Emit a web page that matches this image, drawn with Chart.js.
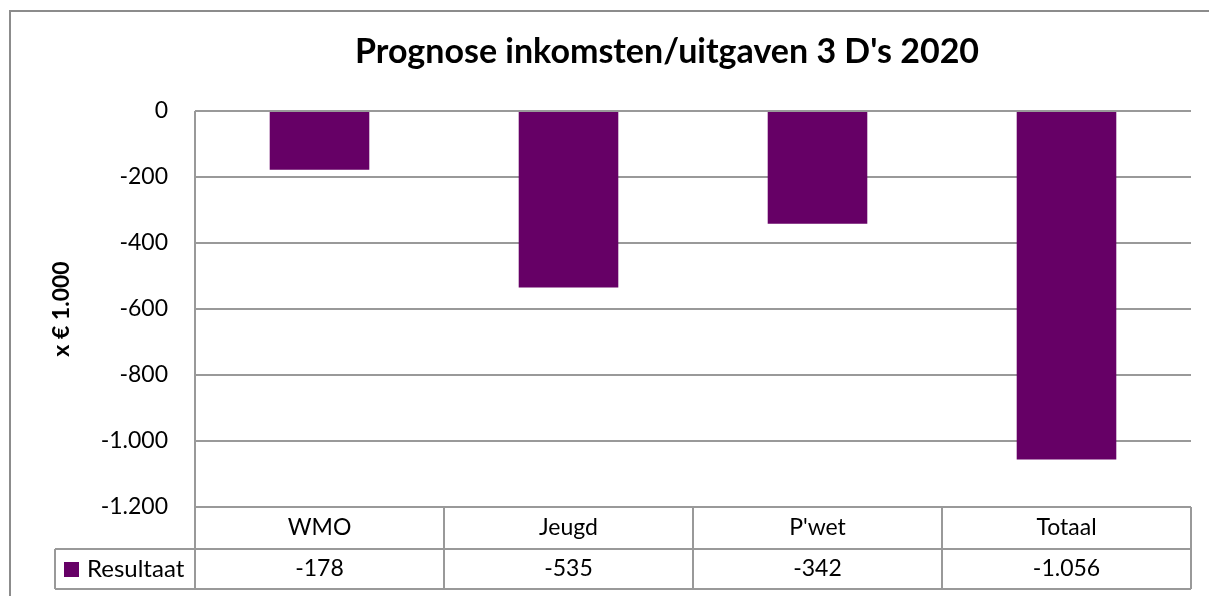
<!DOCTYPE html>
<html lang="nl">
<head>
    <meta charset="UTF-8">
    <title>Prognose inkomsten/uitgaven 3 D's 2020</title>
    <script src="https://cdn.jsdelivr.net/npm/chart.js"></script>
    <style>
        html, body { margin: 0; padding: 0; background: #fff; }
        canvas { display: block; }
    </style>
</head>
<body>
    <canvas id="grafiek" width="1209" height="596"></canvas>

    <script>
        // gegevens
        const categorieen = ['WMO', 'Jeugd', "P'wet", 'Totaal'];
        const resultaat = [-178, -535, -342, -1056];
        const reeksNaam = 'Resultaat';
        const titel = "Prognose inkomsten/uitgaven 3 D's 2020";
        const asTitel = 'x € 1.000';
        const yMin = -1200, yMax = 0, yStap = 200;

        const paars = '#660066';
        const lijnKleur = '#999999';
        const lettertype = 'Lato, "DejaVu Sans", sans-serif';

        function fmt(v) {
            let s = Math.abs(v).toString().replace(/\B(?=(\d{3})+(?!\d))/g, '.');
            return (v < 0 ? '-' : '') + s;
        }

        // kader, titel en datatabel onder de grafiek
        const tabelPlugin = {
            id: 'tabel',
            beforeDraw(chart) {
                const ctx = chart.ctx;
                ctx.save();
                ctx.fillStyle = '#fff';
                ctx.fillRect(0, 0, chart.width, chart.height);
                ctx.strokeStyle = '#8c8c8c';
                ctx.lineWidth = 2;
                ctx.beginPath();
                ctx.moveTo(10, chart.height);
                ctx.lineTo(10, 11);
                ctx.lineTo(chart.width, 11);
                ctx.stroke();

                ctx.fillStyle = '#000';
                ctx.font = 'bold 34px ' + lettertype;
                ctx.textAlign = 'center';
                ctx.textBaseline = 'middle';
                ctx.fillText(titel, 667, 52);
                ctx.restore();
            },
            afterDraw(chart) {
                const ctx = chart.ctx;
                const area = chart.chartArea;
                const x = chart.scales.x;
                const rij1 = area.bottom, rij2 = area.bottom + 42, rij3 = area.bottom + 82;
                const legLinks = 55;
                const breedte = (area.right - area.left) / categorieen.length;

                ctx.save();
                ctx.strokeStyle = lijnKleur;
                ctx.lineWidth = 2;
                ctx.beginPath();
                // horizontale lijnen
                ctx.moveTo(area.left, rij1); ctx.lineTo(area.right, rij1);
                ctx.moveTo(legLinks, rij2); ctx.lineTo(area.right, rij2);
                ctx.moveTo(legLinks, rij3); ctx.lineTo(area.right, rij3);
                // verticale lijnen
                ctx.moveTo(area.left, area.top); ctx.lineTo(area.left, rij3);
                ctx.moveTo(legLinks, rij2); ctx.lineTo(legLinks, rij3);
                categorieen.forEach((c, i) => {
                    const xr = x.getPixelForValue(i) + breedte / 2;
                    ctx.moveTo(xr, rij1); ctx.lineTo(xr, rij3);
                });
                ctx.stroke();

                ctx.fillStyle = '#000';
                ctx.font = '23px ' + lettertype;
                ctx.textAlign = 'center';
                ctx.textBaseline = 'middle';
                categorieen.forEach((c, i) => {
                    const xm = x.getPixelForValue(i);
                    ctx.fillText(c, xm, (rij1 + rij2) / 2);
                    ctx.fillText(fmt(resultaat[i]), xm, (rij2 + rij3) / 2);
                });

                // legenda-cel
                ctx.fillStyle = paars;
                ctx.fillRect(64, 562, 15, 15);
                ctx.fillStyle = '#000';
                ctx.textAlign = 'left';
                ctx.font = '24px ' + lettertype;
                ctx.fillText(reeksNaam, 87, (rij2 + rij3) / 2);
                ctx.restore();
            }
        };

        new Chart(document.getElementById('grafiek').getContext('2d'), {
            type: 'bar',
            data: {
                labels: categorieen,
                datasets: [{
                    label: reeksNaam,
                    data: resultaat,
                    backgroundColor: paars,
                    borderWidth: 0,
                    barPercentage: 0.4,
                    categoryPercentage: 1.0
                }]
            },
            options: {
                responsive: false,
                animation: false,
                devicePixelRatio: 1,
                layout: {
                    padding: { top: 111, bottom: 89, left: 0, right: 18 }
                },
                plugins: {
                    legend: { display: false },
                    title: { display: false },
                    tooltip: { enabled: false }
                },
                scales: {
                    x: {
                        display: false
                    },
                    y: {
                        min: yMin,
                        max: yMax,
                        afterFit(scale) { scale.width = 195; },
                        ticks: {
                            stepSize: yStap,
                            padding: 27,
                            color: '#000',
                            font: { family: lettertype, size: 23 },
                            callback: (v) => fmt(v)
                        },
                        grid: {
                            color: lijnKleur,
                            lineWidth: 2,
                            drawTicks: false
                        },
                        border: { display: false },
                        title: {
                            display: true,
                            text: asTitel,
                            color: '#000',
                            font: { family: lettertype, size: 23, weight: 'bold' },
                            padding: { top: 48, bottom: 0 }
                        }
                    }
                }
            },
            plugins: [tabelPlugin]
        });
    </script>
</body>
</html>
